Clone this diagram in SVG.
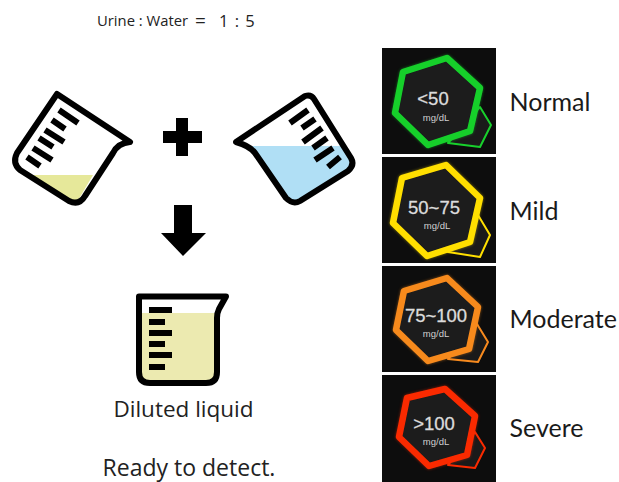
<svg xmlns="http://www.w3.org/2000/svg" width="619" height="482" viewBox="0 0 619 482">
<style>
.t{font-family:"Open Sans","Noto Sans",sans-serif;fill:#222}
.lab{font-family:"Lato","Open Sans",sans-serif;font-size:25px;fill:#1a1a1a}
.tile{fill:#0d0d0d}
.main{fill:#1a1a1a;stroke-width:6.5;stroke-linejoin:round}
.sm{fill:#1a1a1a;stroke-width:2;stroke-linejoin:round}
.v{font-family:"Liberation Sans",Arial,sans-serif;font-size:18.500px;fill:#dcdcdc;stroke:#dcdcdc;stroke-width:.3;text-anchor:middle}
.u{font-family:"Liberation Sans",Arial,sans-serif;font-size:9.500px;fill:#d0d0d0;text-anchor:middle}
.b{fill:none;stroke:#000;stroke-width:6;stroke-linejoin:round}
.tk{stroke:#000;stroke-width:6;fill:none}
.gr{stroke:#18d02c}.ye{stroke:#ffdf00}.or{stroke:#f78a1e}.re{stroke:#fa2a00}
</style>
<defs>
<filter id="glow" x="-20%" y="-20%" width="140%" height="140%"><feGaussianBlur stdDeviation="1.5"/></filter>
<filter id="soft" x="-20%" y="-20%" width="140%" height="140%"><feGaussianBlur stdDeviation="0.5"/></filter>
</defs>
<rect width="619" height="482" fill="#fff"/>
<g id="title"><text class="t" x="97" y="26" font-size="14.800">Urine : Water</text><text class="t" x="195" y="27" font-size="19">=</text><text class="t" x="219" y="27" font-size="16.500" letter-spacing="1">1 : 5</text></g>
<g id="beaker-urine">
<path d="M32,175H93L80,197Q76,204 69,201Z" fill="#e6e89a"/>
<path class="b" d="M57,94L130,142Q118,143 113,153L85,196Q79,206 69,201L20,170Q12,163 17,153Z"/>
<path class="tk" d="M59,110L78,123M52,120L65,129M45,130L64,142M39,138L53,147M33,148L52,160M27,157L40,166"/>
</g>
<g id="plus"><path d="M176,118H188V131H202V143H188V156H176V143H163V131H176Z" fill="#000"/></g>
<g id="beaker-water">
<path d="M252,146H343L350,160Q353,166 347,171L300,201Q293,205 287,198Z" fill="#b0dff5"/>
<path class="b" d="M236,142L305,96Q311,94 314,99L351,158Q355,165 348,171L300,201Q293,205 286,198L255,153Q250,146 236,142Z"/>
<path class="tk" d="M308,110L290,123M315,119L302,128M322,128L303,142M327,138L313,148M333,148L315,160M340,157L328,167"/>
</g>
<g id="arrow"><path d="M174,205H192V233H206L183,256L161,233H174Z" fill="#000"/></g>
<g id="beaker-diluted">
<path d="M140,313H218V372Q218,382 206,382H150Q140,382 140,372Z" fill="#eceab0"/>
<path class="b" d="M139,296.500H226L219,309Q217,313 217,318V372Q217,383 206,383H150Q139,383 139,372Z"/>
<path d="M149,307H172V313H149ZM149,319H165V325H149ZM149,330H172V336H149ZM149,341H165V347H149ZM149,352H172V358H149ZM149,364H165V370H149Z" fill="#000"/>
<text class="t" x="183.500" y="417" font-size="22.500" text-anchor="middle">Diluted liquid</text>
</g>
<g id="caption"><text class="t" x="189" y="476" font-size="23" text-anchor="middle">Ready to detect.</text></g>
<g id="normal">
<rect class="tile" x="382" y="48" width="114" height="106"/>
<path class="sm gr" d="M448,143L480,147L491,125L480,107Z"/>
<path class="main gr" opacity=".5" filter="url(#glow)" d="M403,72L447,58L480,88L470,131L428,145L395,113Z"/>
<path class="main gr" filter="url(#soft)" d="M403,72L447,58L480,88L470,131L428,145L395,113Z"/>
<text class="v" x="433" y="105">&lt;50</text><text class="u" x="436" y="121">mg/dL</text>
<text class="lab" x="509.500" y="111">Normal</text>
</g>
<g id="mild">
<rect class="tile" x="382" y="157" width="114" height="106"/>
<path class="sm ye" d="M448,252L480,257L490,235L478,215Z"/>
<path class="main ye" opacity=".5" filter="url(#glow)" d="M402,178L446,165L480,198L470,242L427,256L393,223Z"/>
<path class="main ye" filter="url(#soft)" d="M402,178L446,165L480,198L470,242L427,256L393,223Z"/>
<text class="v" x="434" y="214">50~75</text><text class="u" x="437" y="229">mg/dL</text>
<text class="lab" x="509.500" y="220">Mild</text>
</g>
<g id="moderate">
<rect class="tile" x="382" y="266" width="114" height="106"/>
<path class="sm or" d="M448,359L478,362L488,342L477,324Z"/>
<path class="main or" opacity=".5" filter="url(#glow)" d="M404,291L447,278L478,307L469,349L428,361L396,330Z"/>
<path class="main or" filter="url(#soft)" d="M404,291L447,278L478,307L469,349L428,361L396,330Z"/>
<text class="v" x="436" y="322">75~100</text><text class="u" x="436" y="337">mg/dL</text>
<text class="lab" x="509.500" y="328">Moderate</text>
</g>
<g id="severe">
<rect class="tile" x="382" y="375" width="114" height="107"/>
<path class="sm re" d="M448,465L475,468L485,448L475,432Z"/>
<path class="main re" opacity=".5" filter="url(#glow)" d="M407,398L445,389L475,416L467,455L429,466L399,437Z"/>
<path class="main re" filter="url(#soft)" d="M407,398L445,389L475,416L467,455L429,466L399,437Z"/>
<text class="v" x="434" y="430">&gt;100</text><text class="u" x="436" y="445">mg/dL</text>
<text class="lab" x="509.500" y="437">Severe</text>
</g>
</svg>
